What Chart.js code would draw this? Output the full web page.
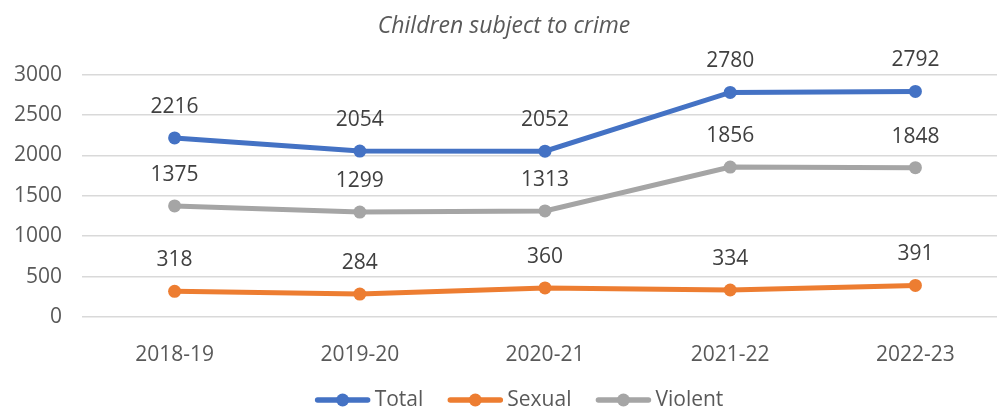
<!DOCTYPE html>
<html lang="en">
<head>
    <meta charset="UTF-8">
    <title>Children subject to crime</title>
    <style>
        html, body {
            margin: 0;
            padding: 0;
            overflow: hidden;
            background: #fff;
        }
        #wrap {
            width: 1032px;
            height: 412px;
        }
    </style>
    <script src="https://cdn.jsdelivr.net/npm/chart.js"></script>
</head>
<body>
    <div id="wrap"><canvas id="crimeChart"></canvas></div>

    <script>
        // Data
        const years = ['2018-19', '2019-20', '2020-21', '2021-22', '2022-23'];
        const totalValues = [2216, 2054, 2052, 2780, 2792];
        const sexualValues = [318, 284, 360, 334, 391];
        const violentValues = [1375, 1299, 1313, 1856, 1848];
        const yTicks = [0, 500, 1000, 1500, 2000, 2500, 3000];

        const FONT = "'Open Sans', 'Liberation Sans', sans-serif";

        // Value labels above each point
        const valueLabels = {
            id: 'valueLabels',
            afterDatasetsDraw(chart) {
                let ctx = chart.ctx;
                ctx.save();
                ctx.font = '21px ' + FONT;
                ctx.fillStyle = '#404040';
                ctx.textAlign = 'center';
                ctx.textBaseline = 'middle';
                chart.data.datasets.forEach((ds, i) => {
                    chart.getDatasetMeta(i).data.forEach((pt, j) => {
                        ctx.fillText(ds.data[j], pt.x, pt.y - 31);
                    });
                });
                ctx.restore();
            }
        };

        // Legend drawn below the axis: thick line with a dot, then the name
        const lineLegend = {
            id: 'lineLegend',
            afterDraw(chart) {
                let ctx = chart.ctx;
                let y = 400;
                let markW = 56, gap = 4, itemGap = 24;
                ctx.save();
                ctx.font = '21px ' + FONT;
                let items = chart.data.datasets.map(ds => ({
                    text: ds.label,
                    color: ds.borderColor,
                    w: markW + gap + ctx.measureText(ds.label).width
                }));
                let total = items.reduce((s, it) => s + it.w, 0) + itemGap * (items.length - 1);
                let x = chart.width / 2 + 3 - total / 2;
                items.forEach(it => {
                    ctx.strokeStyle = it.color;
                    ctx.fillStyle = it.color;
                    ctx.lineWidth = 5.5;
                    ctx.lineCap = 'round';
                    ctx.beginPath();
                    ctx.moveTo(x + 3, y);
                    ctx.lineTo(x + markW - 3, y);
                    ctx.stroke();
                    ctx.beginPath();
                    ctx.arc(x + markW / 2, y, 6.5, 0, Math.PI * 2);
                    ctx.fill();
                    ctx.fillStyle = '#595959';
                    ctx.textAlign = 'left';
                    ctx.textBaseline = 'middle';
                    ctx.fillText(it.text, x + markW + gap, y);
                    x += it.w + itemGap;
                });
                ctx.restore();
            }
        };

        function series(label, data, color) {
            return {
                label: label,
                data: data,
                borderColor: color,
                backgroundColor: color,
                borderWidth: 5,
                pointRadius: 6.5,
                pointHoverRadius: 6.5,
                pointBorderWidth: 0,
                tension: 0
            };
        }

        let ctx = document.getElementById('crimeChart').getContext('2d');
        let crimeChart = new Chart(ctx, {
            type: 'line',
            data: {
                labels: years,
                datasets: [
                    series('Total', totalValues, '#4472C4'),
                    series('Sexual', sexualValues, '#ED7D31'),
                    series('Violent', violentValues, '#A5A5A5')
                ]
            },
            options: {
                responsive: true,
                maintainAspectRatio: false,
                animation: false,
                layout: {
                    padding: { left: 0, right: 24, top: 0, bottom: 46 }
                },
                plugins: {
                    title: {
                        display: true,
                        text: 'Children subject to crime',
                        color: '#595959',
                        font: { family: FONT, size: 23, style: 'italic', weight: 'normal' },
                        padding: { top: 13, bottom: 34 }
                    },
                    legend: { display: false },
                    tooltip: { enabled: false }
                },
                scales: {
                    x: {
                        offset: true,
                        grid: { display: false },
                        border: { display: false },
                        ticks: {
                            color: '#595959',
                            font: { family: FONT, size: 21 },
                            padding: 17
                        },
                        afterFit(scale) { scale.height = 49; }
                    },
                    y: {
                        min: 0,
                        max: 3000,
                        afterBuildTicks(scale) {
                            scale.ticks = yTicks.map(v => ({ value: v }));
                        },
                        grid: { color: '#D9D9D9', lineWidth: 1.5, drawTicks: false },
                        border: { display: false },
                        ticks: {
                            color: '#595959',
                            font: { family: FONT, size: 21 },
                            padding: 20,
                            callback: v => String(v)
                        },
                        afterFit(scale) { scale.width = 82; }
                    }
                }
            },
            plugins: [valueLabels, lineLegend]
        });
    </script>
</body>
</html>
